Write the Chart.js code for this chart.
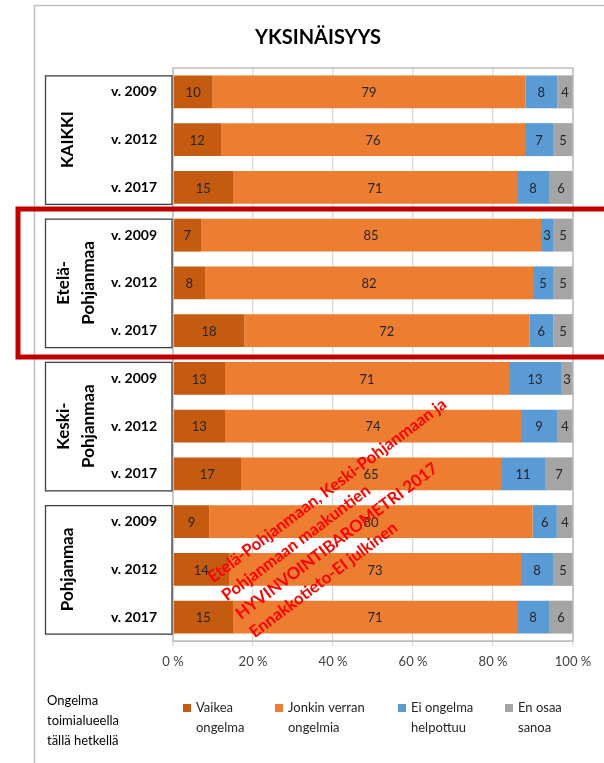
<!DOCTYPE html>
<html><head><meta charset="utf-8">
<script src="https://cdn.jsdelivr.net/npm/chart.js@4/dist/chart.umd.min.js"></script>
<style>html,body{margin:0;padding:0;background:#fff}#wrap{width:604px;height:763px;position:relative}</style>
</head><body><div id="wrap"><canvas id="c"></canvas></div>
<script>
const title = 'YKSINÄISYYS';
const regions = [['KAIKKI'], ['Etelä-', 'Pohjanmaa'], ['Keski-', 'Pohjanmaa'], ['Pohjanmaa']];
const years = ['v. 2009', 'v. 2012', 'v. 2017'];
const seriesNames = [['Vaikea', 'ongelma'], ['Jonkin verran', 'ongelmia'], ['Ei ongelma', 'helpottuu'], ['En osaa', 'sanoa']];
const vaikea = [10, 12, 15, 7, 8, 18, 13, 13, 17, 9, 14, 15];
const jonkin = [79, 76, 71, 85, 82, 72, 71, 74, 65, 80, 73, 71];
const eiOngelma = [8, 7, 8, 3, 5, 6, 13, 9, 11, 6, 8, 8];
const enOsaa = [4, 5, 6, 5, 5, 5, 3, 4, 7, 4, 5, 6];
const xTicks = [0, 20, 40, 60, 80, 100];
const legendTitle = ['Ongelma', 'toimialueella', 'tällä hetkellä'];
const watermark = ['Etelä-Pohjanmaan, Keski-Pohjanmaan ja', 'Pohjanmaan maakuntien', 'HYVINVOINTIBAROMETRI 2017', 'Ennakkotieto-EI julkinen'];
const colors = ['#C55A11', '#ED7D31', '#5B9BD5', '#A5A5A5'];

const raw = [vaikea, jonkin, eiOngelma, enOsaa];
const labels = [];
regions.forEach(() => years.forEach(y => labels.push(y)));
const totals = vaikea.map((_, i) => raw.reduce((s, a) => s + a[i], 0));
const FONT = 'Lato, "Open Sans", sans-serif';

const decor = {
  id: 'decor',
  beforeDraw(chart) {
    const ctx = chart.ctx;
    ctx.save();
    ctx.fillStyle = '#fff';
    ctx.fillRect(0, 0, chart.width, chart.height);
    ctx.restore();
  },
  afterDraw(chart) {
    const ctx = chart.ctx, ca = chart.chartArea, ys = chart.scales.y;
    ctx.save();
    // outer frame
    ctx.strokeStyle = '#BFBFBF'; ctx.lineWidth = 1.5;
    ctx.beginPath(); ctx.moveTo(34.5, 763); ctx.lineTo(34.5, 5.5); ctx.lineTo(604, 5.5); ctx.stroke();
    // plot border
    ctx.strokeStyle = '#BFBFBF'; ctx.lineWidth = 1.5;
    ctx.strokeRect(ca.left, ca.top, ca.right - ca.left, ca.bottom - ca.top);
    // title
    ctx.fillStyle = '#000'; ctx.font = 'bold 20px ' + FONT;
    ctx.textAlign = 'center'; ctx.textBaseline = 'middle';
    ctx.fillText(title, 318, 38);
    // data labels
    ctx.font = '13px ' + FONT; ctx.fillStyle = '#262626';
    chart.data.datasets.forEach((ds, di) => {
      const meta = chart.getDatasetMeta(di);
      meta.data.forEach((el, i) => {
        const c = el.getCenterPoint();
        ctx.fillText(String(raw[di][i]), c.x, c.y + 1);
      });
    });
    // group boxes
    ctx.strokeStyle = '#404040'; ctx.lineWidth = 1.3;
    regions.forEach((r, g) => {
      const c0 = ys.getPixelForValue(g * 3), c2 = ys.getPixelForValue(g * 3 + 2);
      const top = c0 - 16, bot = c2 + 17;
      ctx.strokeRect(45.5, top, 172 - 45.5, bot - top);
      const cy = (c0 + c2) / 2;
      ctx.save();
      ctx.font = 'bold 17px ' + FONT; ctx.fillStyle = '#000';
      ctx.textAlign = 'center'; ctx.textBaseline = 'middle';
      if (r.length === 1) {
        ctx.translate(68, cy); ctx.rotate(-Math.PI / 2); ctx.fillText(r[0], 0, 0);
      } else {
        ctx.translate(64, cy); ctx.rotate(-Math.PI / 2); ctx.fillText(r[0], 0, 0);
        ctx.fillText(r[1], 0, 25);
      }
      ctx.restore();
    });
    // red highlight box
    ctx.strokeStyle = '#C00000'; ctx.lineWidth = 5;
    ctx.strokeRect(18, 209, 600, 148);
    // legend title
    ctx.fillStyle = '#000'; ctx.font = '13px ' + FONT;
    ctx.textAlign = 'left'; ctx.textBaseline = 'middle';
    legendTitle.forEach((t, i) => ctx.fillText(t, 47, 701 + i * 20));
    // legend items
    const lx = [183, 275, 398, 505];
    seriesNames.forEach((n, i) => {
      ctx.fillStyle = colors[i];
      ctx.fillRect(lx[i], 704, 8, 8);
      ctx.fillStyle = '#262626';
      ctx.fillText(n[0], lx[i] + 13, 708);
      ctx.fillText(n[1], lx[i] + 13, 728);
    });
    // watermark
    ctx.save();
    ctx.translate(210, 579);
    ctx.rotate(-37 * Math.PI / 180);
    ctx.fillStyle = '#FF0000'; ctx.font = 'bold 16.5px ' + FONT;
    ctx.textAlign = 'left'; ctx.textBaseline = 'middle';
    watermark.forEach((t, i) => ctx.fillText(t, 0, i * 23));
    ctx.restore();
    ctx.restore();
  }
};

new Chart(document.getElementById('c'), {
  type: 'bar',
  data: {
    labels: labels,
    datasets: raw.map((arr, di) => ({
      label: seriesNames[di].join(' '),
      data: arr.map((v, i) => v / totals[i] * 100),
      backgroundColor: colors[di],
      borderWidth: 0,
      barPercentage: 0.69,
      categoryPercentage: 1.0
    }))
  },
  options: {
    indexAxis: 'y',
    responsive: true,
    maintainAspectRatio: false,
    animation: false,
    layout: { padding: { top: 68, right: 31, bottom: 0, left: 0 } },
    plugins: { legend: { display: false }, tooltip: { enabled: false }, title: { display: false } },
    scales: {
      x: {
        stacked: true, min: 0, max: 100,
        afterBuildTicks: s => { s.ticks = xTicks.map(v => ({ value: v })); },
        afterFit: s => { s.height = 122; },
        ticks: { callback: v => v + ' %', font: { family: FONT, size: 13 }, color: '#404040', padding: 8, maxRotation: 0 },
        grid: { color: '#D9D9D9', lineWidth: 1.3, tickLength: 5 },
        border: { color: '#BFBFBF' }
      },
      y: {
        stacked: true,
        afterFit: s => { s.width = 173; },
        ticks: { font: { family: FONT, size: 14, weight: 'bold' }, color: '#000', padding: 16 },
        grid: { display: false, drawTicks: false },
        border: { display: false }
      }
    }
  },
  plugins: [decor]
});
</script>
</body></html>
